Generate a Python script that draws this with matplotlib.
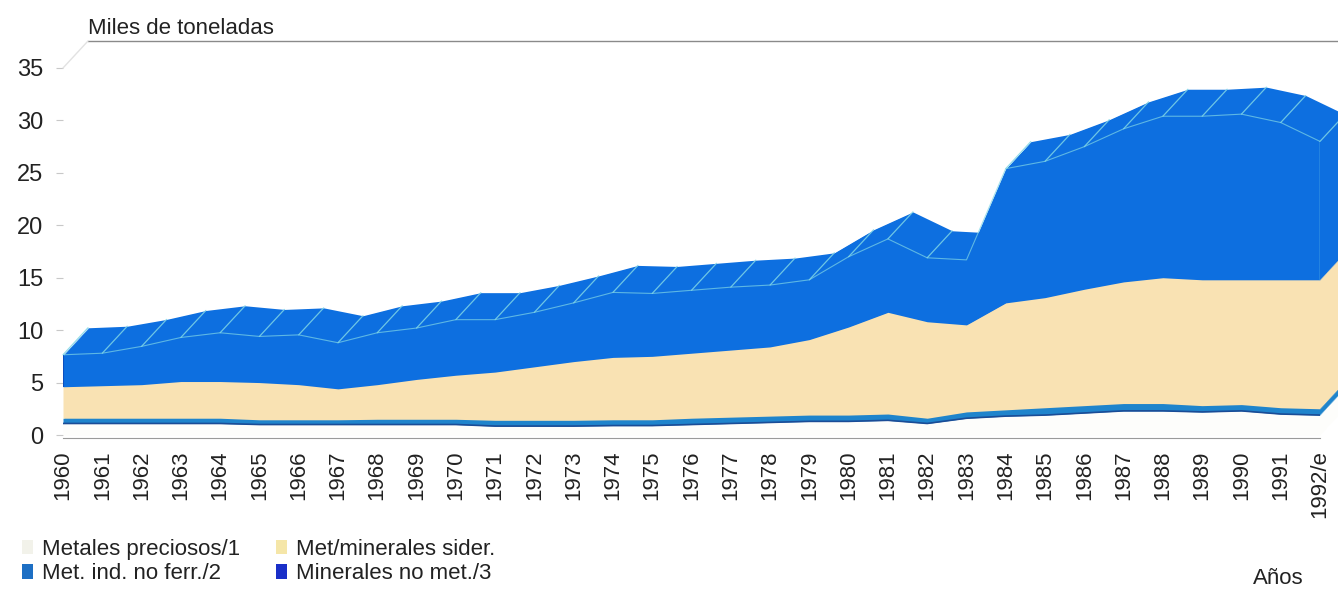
import numpy as np
import matplotlib
matplotlib.use("Agg")
import matplotlib.pyplot as plt
from matplotlib import transforms
from matplotlib.patches import Patch

# ---------------- data (miles de toneladas) ----------------
years = list(range(1960, 1993))
year_labels = [str(y) for y in years[:-1]] + ["1992/e"]

metales_preciosos = [1.1, 1.1, 1.1, 1.1, 1.1, 1.0, 1.0, 1.0, 1.0, 1.0, 1.0,
                     0.85, 0.85, 0.85, 0.9, 0.9, 1.0, 1.1, 1.2, 1.3, 1.3,
                     1.4, 1.1, 1.6, 1.8, 1.9, 2.1, 2.3, 2.3, 2.2, 2.3, 2.0, 1.9]
met_ind_no_ferr = [0.5, 0.5, 0.5, 0.5, 0.5, 0.45, 0.45, 0.45, 0.5, 0.5, 0.5,
                   0.55, 0.55, 0.55, 0.55, 0.55, 0.6, 0.6, 0.6, 0.6, 0.6,
                   0.6, 0.5, 0.6, 0.6, 0.7, 0.7, 0.7, 0.7, 0.6, 0.6, 0.6, 0.6]
met_minerales_sider = [3.0, 3.1, 3.2, 3.5, 3.5, 3.55, 3.35, 2.95, 3.3, 3.8, 4.2,
                       4.6, 5.1, 5.6, 5.95, 6.05, 6.2, 6.4, 6.6, 7.2, 8.4,
                       9.7, 9.2, 8.3, 10.2, 10.5, 11.1, 11.6, 12.0, 12.0, 11.9, 12.2, 12.3]
minerales_no_met = [3.05, 3.1, 3.65, 4.2, 4.65, 4.4, 4.75, 4.4, 4.95, 4.9, 5.3,
                    5.0, 5.2, 5.6, 6.2, 6.0, 6.0, 6.0, 5.9, 5.7, 6.7,
                    7.0, 6.1, 6.2, 12.8, 13.0, 13.6, 14.6, 15.4, 15.6, 15.8, 15.0, 13.2]

series_names = ["Metales preciosos/1", "Met. ind. no ferr./2",
                "Met/minerales sider.", "Minerales no met./3"]
series_colors = ["#fdfdfb", "#1f84cc", "#f9e2b3", "#0d6fe0"]
legend_colors = ["#f2f2ea", "#1d6fc4", "#f5e6a8", "#1a2fc8"]

plt.rcParams["font.family"] = ["Liberation Sans", "DejaVu Sans"]

W, H = 1338, 589
fig = plt.figure(figsize=(W / 100, H / 100), dpi=100)
ax = fig.add_axes([63 / W, 154 / H, 1257 / W, 367 / H])
ax.set_xlim(1960, 1992)
ax.set_ylim(0, 35)

x = np.array(years, dtype=float)
layers = [np.array(s, dtype=float) for s in
          (metales_preciosos, met_ind_no_ferr, met_minerales_sider, minerales_no_met)]
cum = np.cumsum(np.vstack(layers), axis=0)
bases = np.vstack([np.zeros_like(x), cum[:-1]])

# pseudo 3-D depth (pixels)
DX, DY = 25, 27
NSLICE = 28
for k in np.linspace(1.0, 0.0, NSLICE):
    tr = transforms.offset_copy(ax.transData, fig=fig, x=k * DX, y=k * DY, units="dots")
    for i in range(4):
        ax.fill_between(x, bases[i], cum[i], color=series_colors[i], lw=0,
                        transform=tr, clip_on=False, zorder=2)

# edges on the front face
top = cum[-1]
edge_col = "#7fd6e6"
ax.plot(x, cum[0], color="#1a4c96", lw=1.2, zorder=3)
ax.plot(x, top, color=edge_col, lw=0.8, alpha=0.7, zorder=3)
ax.vlines(1992, cum[2][-1], top[-1], color=edge_col, lw=1.0, zorder=3)
ax.vlines(1960, cum[2][0], top[0], color="#0b4fc0", lw=1.5, zorder=3)

# depth lines on the roof
pts = ax.transData.transform(np.column_stack([x, top]))
slopes = np.diff(pts[:, 1]) / np.diff(pts[:, 0])
for i, yr in enumerate(years):
    if i < len(slopes) and slopes[i] > DY / DX:
        continue
    ax.annotate("", xy=(yr, top[i]), xytext=(DX, DY), textcoords="offset pixels",
                arrowprops=dict(arrowstyle="-", color=edge_col, lw=0.9, alpha=0.85,
                                shrinkA=0, shrinkB=0), zorder=3)

# back wall top edge
back = transforms.offset_copy(ax.transData, fig=fig, x=DX, y=DY, units="dots")
ax.plot([1960, 1993], [35, 35], color="#8a8a8a", lw=1.0, transform=back, clip_on=False)
ax.annotate("", xy=(1960, 35), xytext=(DX, DY), textcoords="offset pixels",
            arrowprops=dict(arrowstyle="-", color="#e2e2e2", lw=1.0, shrinkA=0, shrinkB=0))

# axes styling
for s in ("top", "right", "left"):
    ax.spines[s].set_visible(False)
ax.spines["bottom"].set_color("#9a9a9a")
ax.spines["bottom"].set_position(("outward", 2))
ax.set_yticks(range(0, 36, 5))
ax.tick_params(axis="y", length=5, color="#c8c8c8", pad=9, labelsize=17, labelcolor="#222222")
ax.set_xticks(years)
ax.set_xticklabels(year_labels, rotation=90)
ax.tick_params(axis="x", length=0, pad=9, labelsize=16, labelcolor="#222222")
ax.patch.set_alpha(0)

fig.text(88 / W, 1 - 28 / H, "Miles de toneladas", fontsize=16, color="#222222",
         ha="left", va="center")
fig.text(1278 / W, 1 - 578 / H, "Años", fontsize=16, color="#222222",
         ha="center", va="center")

handles = [Patch(facecolor=c, edgecolor="none") for c in legend_colors]
fig.legend(handles, series_names, loc="upper left", bbox_to_anchor=(22 / W, 1 - 539 / H),
           ncol=2, frameon=False, fontsize=16, handlelength=0.5, handleheight=0.6,
           handletextpad=0.4, columnspacing=1.6, labelspacing=0.15, borderpad=0,
           borderaxespad=0, labelcolor="#222222")

fig.savefig("out.png", dpi=100)
